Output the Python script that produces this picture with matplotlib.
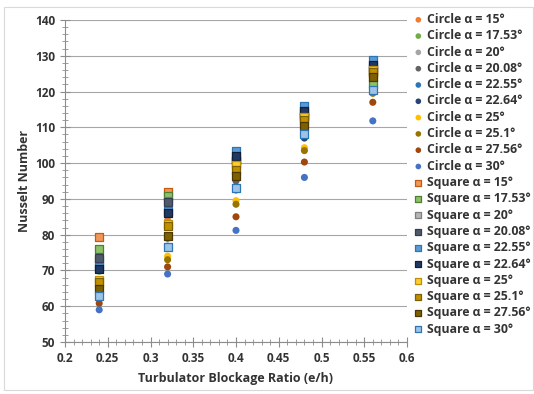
import matplotlib
matplotlib.use("Agg")
import matplotlib.pyplot as plt
from matplotlib.patches import Rectangle
from matplotlib.ticker import MultipleLocator

plt.rcParams['font.family'] = ['Open Sans', 'DejaVu Sans']

ratio = [0.24, 0.32, 0.40, 0.48, 0.56]

angles = ['15', '17.53', '20', '20.08', '22.55', '22.64', '25', '25.1', '27.56', '30']

# Nusselt number per blockage ratio, circular turbulators
circle_15 = [72.0, 84.0, 98.5, 112.0, 124.5]
circle_17_53 = [69.8, 82.0, 97.0, 111.0, 121.0]
circle_20 = [66.5, 79.5, 95.5, 109.5, 123.0]
circle_20_08 = [66.0, 79.0, 95.0, 109.0, 122.5]
circle_22_55 = [63.3, 76.8, 92.8, 107.5, 122.0]
circle_22_64 = [63.0, 76.5, 92.5, 107.0, 121.5]
circle_25 = [62.3, 74.0, 89.5, 104.3, 120.0]
circle_25_1 = [62.0, 73.0, 88.5, 103.5, 119.5]
circle_27_56 = [60.8, 71.0, 85.0, 100.3, 117.0]
circle_30 = [59.0, 69.0, 81.2, 96.0, 111.8]

# square turbulators
square_15 = [79.3, 92.0, 101.0, 114.0, 125.0]
square_17_53 = [76.0, 90.8, 100.0, 113.0, 122.0]
square_20 = [73.0, 89.5, 100.5, 113.0, 126.0]
square_20_08 = [73.4, 89.0, 101.0, 113.5, 126.5]
square_22_55 = [71.0, 86.5, 103.5, 116.0, 128.8]
square_22_64 = [70.3, 86.0, 102.0, 114.5, 127.5]
square_25 = [67.3, 83.0, 99.5, 113.0, 126.0]
square_25_1 = [66.8, 82.5, 98.0, 112.0, 125.5]
square_27_56 = [64.8, 79.5, 96.5, 110.5, 124.0]
square_30 = [62.8, 76.5, 93.0, 108.0, 120.5]

circles = [circle_15, circle_17_53, circle_20, circle_20_08, circle_22_55,
           circle_22_64, circle_25, circle_25_1, circle_27_56, circle_30]
squares = [square_15, square_17_53, square_20, square_20_08, square_22_55,
           square_22_64, square_25, square_25_1, square_27_56, square_30]

circle_colors = ['#ED7D31', '#70AD47', '#A5A5A5', '#636363', '#2E75B6',
                 '#264478', '#FFC000', '#997300', '#9E480E', '#4472C4']
square_colors = ['#F1975A', '#8CC168', '#B7B7B7', '#4F5B6B', '#5B9BD5',
                 '#1F3864', '#FFCD33', '#BF9000', '#7F6000', '#9DC3E6']
square_edges = ['#C55A11', '#507E32', '#7F7F7F', '#333F50', '#2E75B6',
                '#111E38', '#BF9000', '#7F6000', '#4A3800', '#2E75B6']

fig = plt.figure(figsize=(5.34, 3.94), dpi=100)
fig.patches.append(Rectangle((0.008, 0.01), 0.99, 0.972, transform=fig.transFigure,
                             fill=False, edgecolor='#D9D9D9', linewidth=0.8))
ax = fig.add_axes([65 / 534, 1 - 342 / 394, 342 / 534, 322 / 394])

for a, vals, c in zip(angles, circles, circle_colors):
    ax.scatter(ratio, vals, s=26, marker='o', color=c, edgecolors='none',
               label='Circle α = ' + a + '°', zorder=3)
for a, vals, c, e in zip(angles, squares, square_colors, square_edges):
    ax.scatter(ratio, vals, s=30, marker='s', color=c, edgecolors=e, linewidths=0.9,
               label='Square α = ' + a + '°', zorder=3)

ax.set_xlim(0.2, 0.6)
ax.set_ylim(50, 140)
ax.xaxis.set_minor_locator(MultipleLocator(0.01))
ax.yaxis.set_major_locator(MultipleLocator(10))
ax.yaxis.set_minor_locator(MultipleLocator(2))
ax.set_xticks([0.2, 0.25, 0.3, 0.35, 0.4, 0.45, 0.5, 0.55, 0.6])
ax.set_xticklabels(['0.2', '0.25', '0.3', '0.35', '0.4', '0.45', '0.5', '0.55', '0.6'])
ax.grid(axis='y', color='#A6A6A6', linewidth=0.8)
ax.set_axisbelow(True)
for s in ['top', 'right']:
    ax.spines[s].set_visible(False)
for s in ['left', 'bottom']:
    ax.spines[s].set_color('#8C8C8C')
    ax.spines[s].set_linewidth(0.8)
ax.tick_params(which='major', direction='inout', length=7, color='#8C8C8C', width=0.8,
               labelsize=8.5, labelcolor='#333333')
ax.tick_params(which='minor', direction='inout', length=4, color='#8C8C8C', width=0.6)
for lab in ax.get_xticklabels() + ax.get_yticklabels():
    lab.set_fontweight('bold')

ax.set_xlabel('Turbulator Blockage Ratio (e/h)', fontsize=9, fontweight='bold',
              color='#333333', labelpad=5)
ax.set_ylabel('Nusselt Number', fontsize=9, fontweight='bold', color='#333333',
              labelpad=3)

fig.legend(loc='upper left', bbox_to_anchor=(411 / 534, 1 - 13 / 394), frameon=False,
           prop={'size': 8.8, 'weight': 'bold'}, labelcolor='#333333',
           handletextpad=0.1, labelspacing=0.27, borderaxespad=0, borderpad=0,
           handlelength=1.2, markerscale=0.8)

fig.savefig('out.png', dpi=100)
